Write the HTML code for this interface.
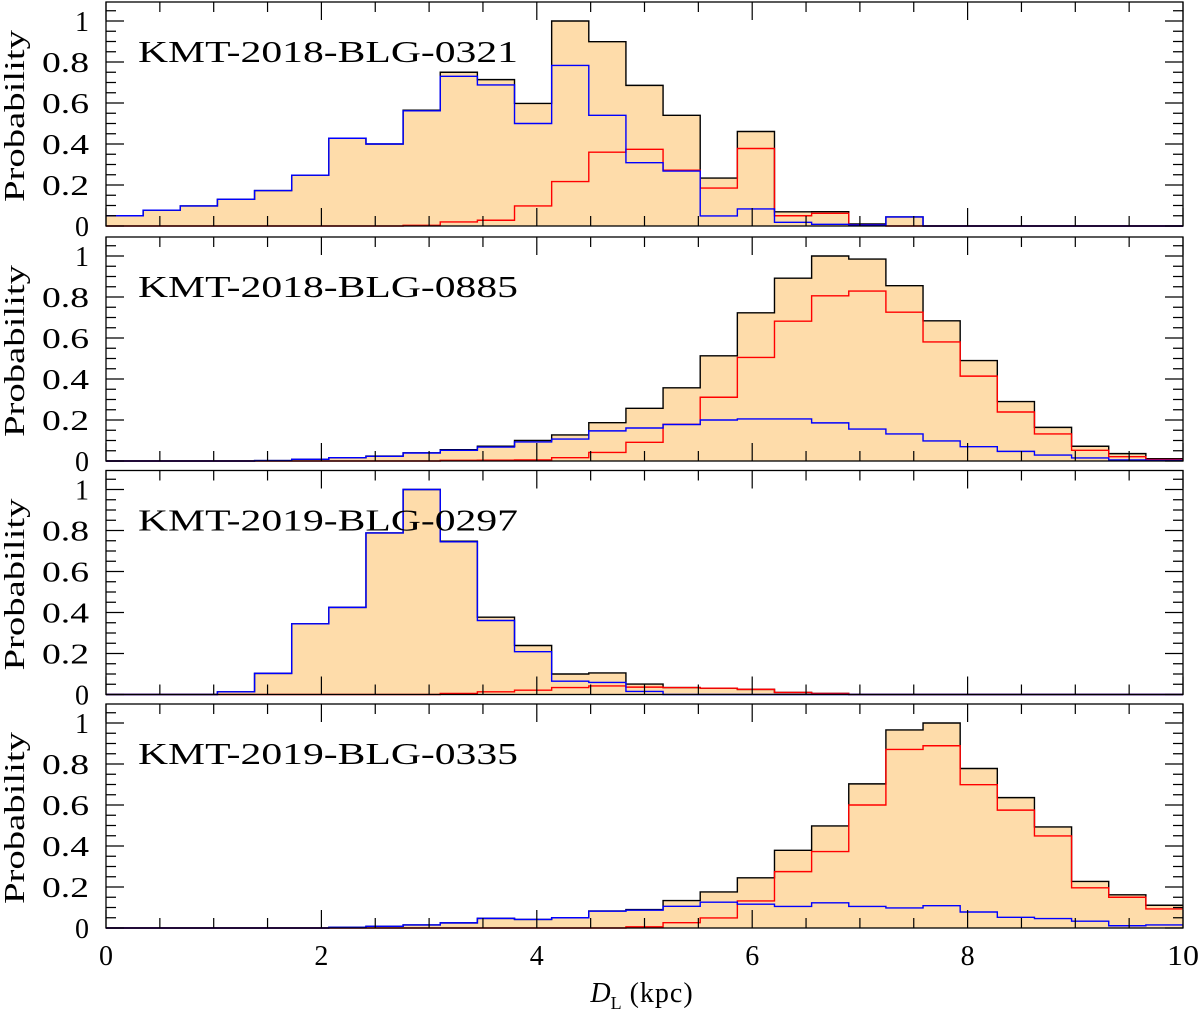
<!DOCTYPE html>
<html><head><meta charset="utf-8">
<style>
html,body{margin:0;padding:0;background:#fff;}
svg{display:block;font-family:"Liberation Serif",serif;}
</style></head>
<body>
<svg id="chart" width="1200" height="1014" viewBox="0 0 1200 1014" xmlns="http://www.w3.org/2000/svg"></svg>
<script>
const panelNames = ["KMT-2018-BLG-0321","KMT-2018-BLG-0885","KMT-2019-BLG-0297","KMT-2019-BLG-0335"];
const binWidth = 10/29;
const totalP1 = [0.05,0.077,0.098,0.13,0.173,0.248,0.428,0.40,0.565,0.75,0.714,0.598,1.0,0.899,0.686,0.54,0.234,0.461,0.069,0.07,0.01,0.044,0,0,0,0,0,0,0];
const diskP1  = [0.05,0.077,0.098,0.13,0.173,0.248,0.428,0.40,0.562,0.73,0.688,0.50,0.783,0.54,0.309,0.268,0.049,0.083,0.018,0.008,0.005,0.044,0,0,0,0,0,0,0];
const bulgeP1 = [0,0,0,0,0,0,0,0,0.003,0.02,0.028,0.098,0.217,0.36,0.374,0.272,0.185,0.378,0.05,0.062,0.005,0,0,0,0,0,0,0,0];
const totalP2 = [0,0,0,0,0.002,0.008,0.016,0.024,0.04,0.055,0.072,0.10,0.127,0.187,0.257,0.357,0.513,0.723,0.892,1.0,0.985,0.855,0.684,0.49,0.29,0.164,0.072,0.036,0.011];
const diskP2  = [0,0,0,0,0.002,0.008,0.016,0.023,0.039,0.052,0.068,0.093,0.107,0.147,0.161,0.178,0.20,0.205,0.205,0.186,0.156,0.132,0.098,0.07,0.047,0.029,0.015,0.005,0.003];
const bulgeP2 = [0,0,0,0,0,0,0,0,0,0.003,0.004,0.005,0.016,0.042,0.091,0.179,0.311,0.505,0.682,0.806,0.829,0.726,0.581,0.414,0.239,0.132,0.052,0.021,0.007];
const totalP3 = [0,0,0,0.013,0.103,0.345,0.425,0.788,1.0,0.748,0.377,0.239,0.10,0.105,0.051,0.034,0.031,0.025,0.01,0.005,0,0,0,0,0,0,0,0,0];
const diskP3  = [0,0,0,0.013,0.103,0.345,0.425,0.788,1.0,0.745,0.361,0.209,0.065,0.059,0.015,0,0,0,0,0,0,0,0,0,0,0,0,0,0];
const bulgeP3 = [0,0,0,0,0,0,0,0,0,0.005,0.013,0.021,0.034,0.042,0.036,0.034,0.031,0.025,0.01,0.005,0,0,0,0,0,0,0,0,0];
const totalP4 = [0,0,0,0,0,0,0.003,0.008,0.015,0.025,0.047,0.042,0.05,0.083,0.09,0.134,0.176,0.245,0.379,0.498,0.703,0.966,1.0,0.778,0.636,0.493,0.227,0.162,0.111];
const diskP4  = [0,0,0,0,0,0,0.003,0.008,0.015,0.025,0.047,0.042,0.05,0.082,0.087,0.106,0.126,0.116,0.105,0.123,0.105,0.098,0.109,0.078,0.052,0.046,0.033,0.011,0.015];
const bulgeP4 = [0,0,0,0,0,0,0,0,0,0,0,0,0,0,0.006,0.026,0.049,0.132,0.275,0.373,0.6,0.871,0.889,0.699,0.575,0.449,0.196,0.15,0.093];
const yTickLabels = ["0","0.2","0.4","0.6","0.8","1"];
const xTickLabels = ["0","2","4","6","8","10"];

const totals=[totalP1,totalP2,totalP3,totalP4], disks=[diskP1,diskP2,diskP3,diskP4], bulges=[bulgeP1,bulgeP2,bulgeP3,bulgeP4];
const NS="http://www.w3.org/2000/svg";
const svg=document.getElementById('chart');
const X0=106,X1=1183,bottoms=[226,461,694.5,928],PH=224,YS=205;
function xs(v){return X0+(v/10)*(X1-X0);}
function mk(tag,attrs,parent){const e=document.createElementNS(NS,tag);for(const k in attrs)e.setAttribute(k,attrs[k]);(parent||svg).appendChild(e);return e;}
function stepPath(vals,ys,close){
  let d='';const n=vals.length;
  for(let i=0;i<n;i++){const xa=xs(Math.min(i*binWidth,10)),xb=xs(Math.min((i+1)*binWidth,10)),y=ys(vals[i]);
    d+=(i===0?'M'+xa+','+(close?ys(0):y)+' L'+xa+','+y:' L'+xa+','+y)+' L'+xb+','+y;}
  if(close)d+=' L'+xs(10)+','+ys(0)+' Z';
  return d;
}
for(let p=0;p<4;p++){
  const b=bottoms[p],top=b-PH;
  const ys=v=>b-v*YS;
  const g=mk('g',{});
  
  
  const fill=mk('path',{d:stepPath(totals[p],ys,true),fill:'#fedcaa',stroke:'none'},g);
  
  
  const tl=mk('path',{d:stepPath(totals[p],ys,false),fill:'none',stroke:'#000','stroke-width':1.4},g);
  
  
  const rl=mk('path',{d:stepPath(bulges[p],ys,false),fill:'none',stroke:'#f00','stroke-width':1.4},g);
  
  
  const bl=mk('path',{d:stepPath(disks[p],ys,false),fill:'none',stroke:'#00f','stroke-width':1.4},g);
  
  
  const fr=mk('rect',{x:X0,y:top,width:X1-X0,height:PH,fill:'none',stroke:'#000','stroke-width':1.3},g);
  
  
  let td='';
  for(let k=0;k<=20;k++){const x=xs(k*0.5),L=(k%4===0)?18:10;td+='M'+x+','+b+' v'+(-L)+' M'+x+','+top+' v'+L+' ';}
  for(let k=0;k<=21;k++){const y=ys(k*0.05);if(y<top+1)continue;const L=(k%4===0)?18:10;td+='M'+X0+','+y+' h'+L+' M'+X1+','+y+' h'+(-L)+' ';}
  const tk=mk('path',{d:td,stroke:'#000','stroke-width':1.2,fill:'none'},g);
  
  
  yTickLabels.forEach((lab,i)=>{
    const attrs={x:89,y:ys(i*0.2)+10,'text-anchor':'end','font-size':28};
    if(lab.length>1){attrs.textLength=47;attrs.lengthAdjust='spacingAndGlyphs';}
    const t=mk('text',attrs,g);t.textContent=lab;
    
    
  });
  const pl=mk('text',{x:138,y:top+60,'font-size':31,textLength:380,lengthAdjust:'spacingAndGlyphs'},g);pl.textContent=panelNames[p];
  
  
  const yl=mk('text',{x:0,y:0,'font-size':28,'text-anchor':'middle',textLength:172,lengthAdjust:'spacingAndGlyphs',transform:'translate(24,'+(top+PH/2+2)+') rotate(-90)'},g);yl.textContent='Probability';
  
  
}
xTickLabels.forEach((lab,i)=>{
  const attrs={x:xs(i*2),y:965,'text-anchor':'middle','font-size':28};
  if(lab.length>1){attrs.textLength=32;attrs.lengthAdjust='spacingAndGlyphs';}
  const t=mk('text',attrs);t.textContent=lab;
  
  
});
const xt=mk('text',{x:642,y:1002,'text-anchor':'middle','font-size':28});


xt.innerHTML='<tspan font-style="italic">D</tspan><tspan font-size="18" dy="7">L</tspan><tspan dy="-7" letter-spacing="1"> (kpc)</tspan>';
</script>
</body></html>
